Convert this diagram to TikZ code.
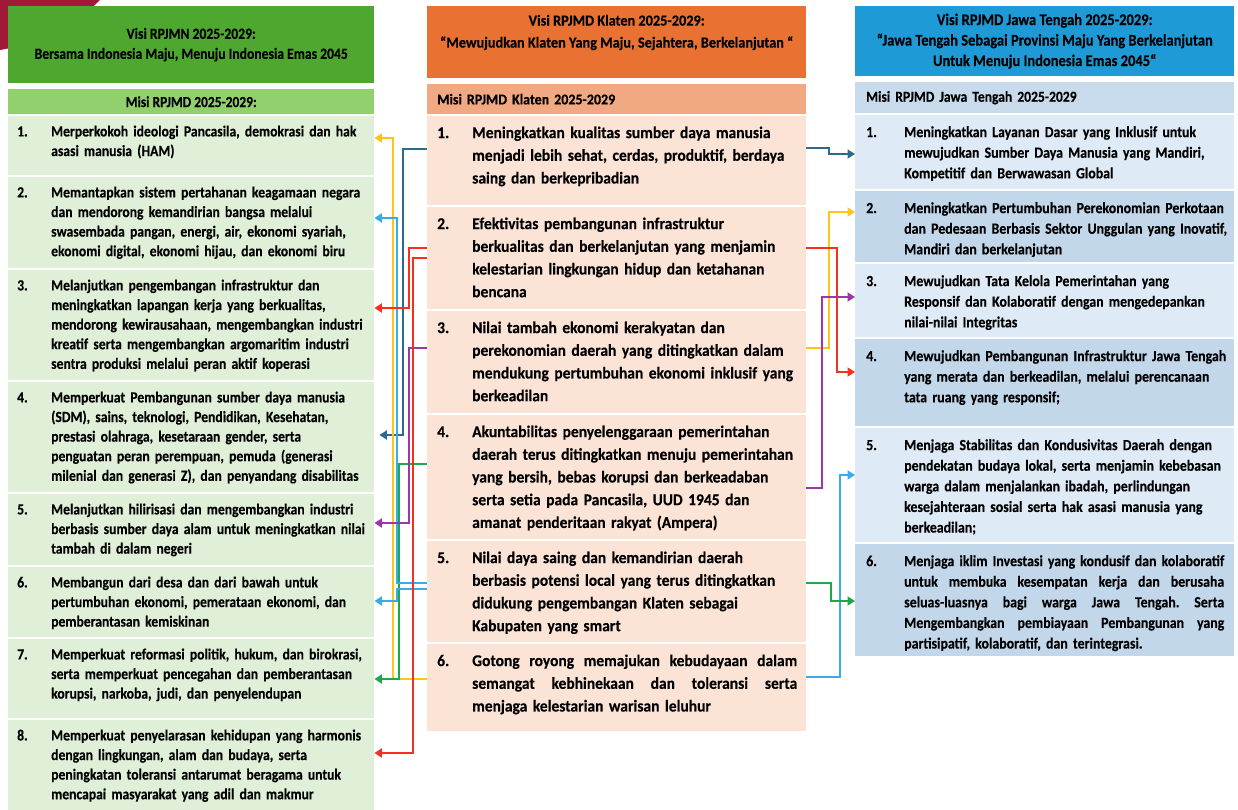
\documentclass[tikz,border=0pt]{standalone}
\usepackage{fontspec}
\setmainfont{Carlito}
\newfontfamily\hurufN{Carlito}[FakeStretch=0.88, BoldFeatures={FakeBold=0.3}]
\newfontfamily\hurufK{Carlito}[FakeStretch=0.94, BoldFeatures={FakeBold=0.3}]
\newfontfamily\hurufJ{Carlito}[FakeStretch=0.895, BoldFeatures={FakeBold=0.3}]
\usetikzlibrary{arrows.meta}

% colores
\definecolor{marun}{HTML}{A01A35}
\definecolor{hijautua}{HTML}{4EA72E}
\definecolor{hijaumisi}{HTML}{92D06E}
\definecolor{hijauisi}{HTML}{E0F0D8}
\definecolor{oranye}{HTML}{E97132}
\definecolor{salem}{HTML}{F1A983}
\definecolor{krem}{HTML}{FBE3D6}
\definecolor{biru}{HTML}{1E9BD7}
\definecolor{birumisi}{HTML}{C8DBEC}
\definecolor{biruterang}{HTML}{DEEAF5}
\definecolor{birugelap}{HTML}{C2D7EA}
\definecolor{kuning}{HTML}{FFC31A}
\definecolor{birumuda}{HTML}{3AABE8}
\definecolor{tealtua}{HTML}{2B6A8E}
\definecolor{merah}{HTML}{F5301E}
\definecolor{ungu}{HTML}{9B37A8}
\definecolor{hijau}{HTML}{1DA84A}

% baris rata kanan-kiri
\newcommand{\rata}[2]{{\spaceskip=0.22em plus 1em minus 0.05em\makebox[#1][s]{#2}}}

\tikzset{
  kotak/.style={rectangle, inner sep=0pt, anchor=north west},
  judul/.style={kotak, align=center},
  isi/.style={inner sep=0pt, anchor=north west, align=left},
  isiN/.style={isi, font=\hurufN\bfseries\fontsize{15.5}{19.6}\selectfont},
  isiK/.style={isi, font=\hurufK\bfseries\fontsize{16.5}{22.7}\selectfont},
  isiJ/.style={isi, font=\hurufJ\bfseries\fontsize{15.5}{20.6}\selectfont},
  panah/.style={line width=2.4pt, -{Triangle[length=7.5pt,width=9pt]}},
}

\begin{document}
\frenchspacing
\begin{tikzpicture}[x=1pt, y=-1pt]

 \useasboundingbox (0,0) rectangle (1238,810);

 % --- HIASAN POJOK ---
 \fill[marun] (0,0) -- (100,0) .. controls (70,30) and (30,45) .. (0,50) -- cycle;

 % --- KOLOM KIRI: RPJMN ---
 \node[judul, fill=hijautua, minimum width=366pt, minimum height=77pt,
   font=\hurufN\bfseries\fontsize{15.5}{20}\selectfont] (visiN) at (8,6)
   {Visi RPJMN 2025-2029:\\Bersama Indonesia Maju, Menuju Indonesia Emas 2045};
 \node[judul, fill=hijaumisi, minimum width=366pt, minimum height=25pt,
   font=\hurufN\bfseries\fontsize{15.3}{20}\selectfont] (misiN) at (8,89)
   {Misi RPJMD 2025-2029:};

 \foreach \i/\y/\h/\t in {
   1/116/59/{Merperkokoh ideologi Pancasila, demokrasi dan hak\\asasi manusia (HAM)},
   2/177/91/{Memantapkan sistem pertahanan keagamaan negara\\dan mendorong kemandirian bangsa melalui\\swasembada pangan, energi, air, ekonomi syariah,\\ekonomi digital, ekonomi hijau, dan ekonomi biru},
   3/270/110/{Melanjutkan pengembangan infrastruktur dan\\meningkatkan lapangan kerja yang berkualitas,\\mendorong kewirausahaan, mengembangkan industri\\kreatif serta mengembangkan argomaritim industri\\sentra produksi melalui peran aktif koperasi},
   4/382/110/{Memperkuat Pembangunan sumber daya manusia\\(SDM), sains, teknologi, Pendidikan, Kesehatan,\\prestasi olahraga, kesetaraan gender, serta\\penguatan peran perempuan, pemuda (generasi\\milenial dan generasi Z), dan penyandang disabilitas},
   5/494/71/{Melanjutkan hilirisasi dan mengembangkan industri\\berbasis sumber daya alam untuk meningkatkan nilai\\tambah di dalam negeri},
   6/567/70/{Membangun dari desa dan dari bawah untuk\\pertumbuhan ekonomi, pemerataan ekonomi, dan\\pemberantasan kemiskinan},
   7/639/79/{Memperkuat reformasi politik, hukum, dan birokrasi,\\serta memperkuat pencegahan dan pemberantasan\\korupsi, narkoba, judi, dan penyelendupan},
   8/720/90/{Memperkuat penyelarasan kehidupan yang harmonis\\dengan lingkungan, alam dan budaya, serta\\peningkatan toleransi antarumat beragama untuk\\mencapai masyarakat yang adil dan makmur}}{
   \node[kotak, fill=hijauisi, minimum width=366pt, minimum height=\h pt] (n\i) at (8,\y) {};
   \node[isiN] (n\i n) at ([xshift=9pt,yshift=-6.5pt]n\i.north west) {\strut\i.};
   \node[isiN, text width=340pt] (n\i t) at ([xshift=43pt,yshift=-6.5pt]n\i.north west) {\strut\t};
 }

 % --- KOLOM TENGAH: KLATEN ---
 \node[judul, fill=oranye, minimum width=379pt, minimum height=72pt,
   font=\hurufK\bfseries\fontsize{15.2}{22}\selectfont] (visiK) at (427,6)
   {Visi RPJMD Klaten 2025-2029:\\“Mewujudkan Klaten Yang Maju, Sejahtera, Berkelanjutan “\\~};
 \node[kotak, fill=salem, minimum width=379pt, minimum height=30pt, inner xsep=10pt, text width=359pt, align=left,
   font=\hurufK\bfseries\fontsize{14.9}{20}\selectfont] (misiK) at (427,84) {Misi RPJMD Klaten 2025-2029};

 \foreach \i/\y/\h/\t in {
   1/116/89/{Meningkatkan kualitas sumber daya manusia\\menjadi lebih sehat, cerdas, produktif, berdaya\\saing dan berkepribadian},
   2/207/102/{Efektivitas pembangunan infrastruktur\\berkualitas dan berkelanjutan yang menjamin\\kelestarian lingkungan hidup dan ketahanan\\bencana},
   3/311/102/{Nilai tambah ekonomi kerakyatan dan\\perekonomian daerah yang ditingkatkan dalam\\mendukung pertumbuhan ekonomi inklusif yang\\berkeadilan},
   4/415/124/{Akuntabilitas penyelenggaraan pemerintahan\\daerah terus ditingkatkan menuju pemerintahan\\yang bersih, bebas korupsi dan berkeadaban\\serta setia pada Pancasila, UUD 1945 dan\\amanat penderitaan rakyat (Ampera)},
   5/541/101/{Nilai daya saing dan kemandirian daerah\\berbasis potensi local yang terus ditingkatkan\\didukung pengembangan Klaten sebagai\\Kabupaten yang smart},
   6/644/87/{\rata{325pt}{Gotong royong memajukan kebudayaan dalam}\\\rata{325pt}{semangat kebhinekaan dan toleransi serta}\\menjaga kelestarian warisan leluhur}}{
   \node[kotak, fill=krem, minimum width=379pt, minimum height=\h pt] (k\i) at (427,\y) {};
   \node[isiK] (k\i n) at ([xshift=10pt,yshift=-6pt]k\i.north west) {\strut\i.};
   \node[isiK, text width=345pt] (k\i t) at ([xshift=45pt,yshift=-6pt]k\i.north west) {\strut\t};
 }

 % --- KOLOM KANAN: JAWA TENGAH ---
 \node[judul, fill=biru, minimum width=379pt, minimum height=70pt,
   font=\hurufJ\bfseries\fontsize{16.2}{20.5}\selectfont] (visiJ) at (855,6)
   {Visi RPJMD Jawa Tengah 2025-2029:\\“Jawa Tengah Sebagai Provinsi Maju Yang Berkelanjutan\\Untuk Menuju Indonesia Emas 2045“};
 \node[kotak, fill=birumisi, minimum width=379pt, minimum height=31pt, inner xsep=11pt, text width=357pt, align=left,
   font=\hurufJ\bfseries\fontsize{15.2}{20}\selectfont] (misiJ) at (855,82) {Misi RPJMD Jawa Tengah 2025-2029};

 \foreach \i/\y/\h/\warna/\t in {
   1/115/74/biruterang/{Meningkatkan Layanan Dasar yang Inklusif untuk\\mewujudkan Sumber Daya Manusia yang Mandiri,\\Kompetitif dan Berwawasan Global},
   2/191/71/birugelap/{Meningkatkan Pertumbuhan Perekonomian Perkotaan\\dan Pedesaan Berbasis Sektor Unggulan yang Inovatif,\\Mandiri dan berkelanjutan},
   3/264/73/biruterang/{Mewujudkan Tata Kelola Pemerintahan yang\\Responsif dan Kolaboratif dengan mengedepankan\\nilai-nilai Integritas},
   4/339/87/birugelap/{Mewujudkan Pembangunan Infrastruktur Jawa Tengah\\yang merata dan berkeadilan, melalui perencanaan\\tata ruang yang responsif;},
   5/428/114/biruterang/{Menjaga Stabilitas dan Kondusivitas Daerah dengan\\pendekatan budaya lokal, serta menjamin kebebasan\\warga dalam menjalankan ibadah, perlindungan\\kesejahteraan sosial serta hak asasi manusia yang\\berkeadilan;},
   6/544/112/birugelap/{\rata{320pt}{Menjaga iklim Investasi yang kondusif dan kolaboratif}\\\rata{320pt}{untuk membuka kesempatan kerja dan berusaha}\\\rata{320pt}{seluas-luasnya bagi warga Jawa Tengah. Serta}\\\rata{320pt}{Mengembangkan pembiayaan Pembangunan yang}\\partisipatif, kolaboratif, dan terintegrasi.}}{
   \node[kotak, fill=\warna, minimum width=379pt, minimum height=\h pt] (j\i) at (855,\y) {};
   \node[isiJ] (j\i n) at ([xshift=11pt,yshift=-7.5pt]j\i.north west) {\strut\i.};
   \node[isiJ, text width=345pt] (j\i t) at ([xshift=49pt,yshift=-7.5pt]j\i.north west) {\strut\t};
 }

 % --- PANAH KE KIRI (Klaten -> RPJMN) ---
 \draw[panah, tealtua, shorten >=5pt] (k1.west |- 0,149) -| (403,435) -- (n4.east |- 0,435);
 \draw[panah, kuning] (k6.west |- 0,679) -| (393,138) -- (n1.east |- 0,138);
 \draw[panah, hijau] (k4.west |- 0,464) -| (399,679) -- (n7.east |- 0,679);
 \draw[panah, birumuda] (k5.west |- 0,583) -| (397,218) -- (n2.east |- 0,218);
 \draw[panah, birumuda] (k5.west |- 0,589) -| (397,601) -- (n6.east |- 0,601);
 \draw[panah, ungu] (k3.west |- 0,348) -| (409,523) -- (n5.east |- 0,523);
 \draw[panah, merah] (k2.west |- 0,248) -| (409,308) -- (n3.east |- 0,308);
 \draw[panah, merah] (k2.west |- 0,258) -| (413,753) -- (n8.east |- 0,753);

 % --- PANAH KE KANAN (Klaten -> Jawa Tengah) ---
 \draw[panah, tealtua] (k1.east |- 0,148) -- (829,148) |- (j1.west |- 0,154);
 \draw[panah, kuning] (k3.east |- 0,348) -| (829,212) -- (j2.west |- 0,212);
 \draw[panah, merah] (k2.east |- 0,248) -| (837,372) -- (j4.west |- 0,372);
 \draw[panah, ungu] (k4.east |- 0,488) -| (822,297) -- (j3.west |- 0,297);
 \draw[panah, birumuda] (k6.east |- 0,677) -| (840,475) -- (j5.west |- 0,475);
 \draw[panah, hijau] (k5.east |- 0,583) -| (831,601) -- (j6.west |- 0,601);

\end{tikzpicture}
\end{document}
